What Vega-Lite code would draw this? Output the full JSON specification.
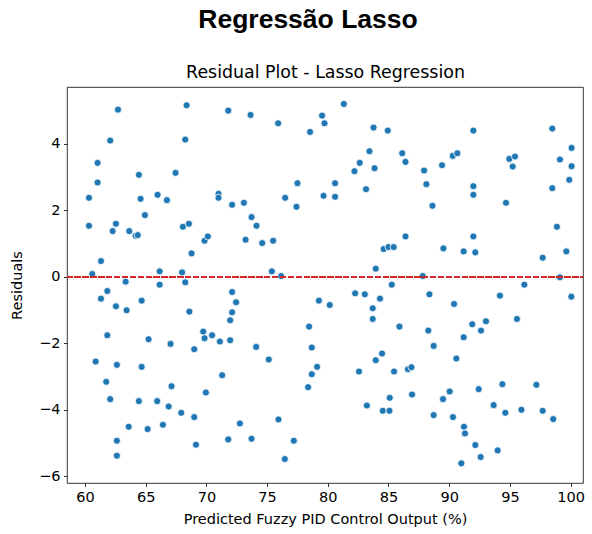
{
  "$schema": "https://vega.github.io/schema/vega-lite/v6.json",
  "width": 516,
  "height": 396,
  "autosize": {"type": "none"},
  "padding": {"left": 67, "top": 87, "right": 9, "bottom": 51},
  "background": "white",
  "title": {
    "text": "Regressão Lasso",
    "font": "Liberation Sans",
    "fontSize": 26.5,
    "fontWeight": "bold",
    "color": "black",
    "anchor": "middle",
    "frame": "group",
    "dx": -17,
    "offset": 30
  },
  "config": {
    "view": {"stroke": "black", "strokeWidth": 0.8},
    "axis": {
      "domain": false,
      "grid": false,
      "tickColor": "black",
      "tickWidth": 0.8,
      "tickSize": 3.5,
      "labelFont": "DejaVu Sans",
      "labelFontSize": 14.5,
      "labelColor": "black",
      "labelPadding": 3.5,
      "titleFont": "DejaVu Sans",
      "titleFontSize": 14.5,
      "titleFontWeight": "normal",
      "titleColor": "black"
    }
  },
  "data": {
    "values": [
      {"x": 62.72, "y": 5.02}, {"x": 68.37, "y": 5.15}, {"x": 71.8, "y": 4.99}, {"x": 62.08, "y": 4.09},
      {"x": 68.26, "y": 4.12}, {"x": 61.04, "y": 3.42}, {"x": 61.04, "y": 2.83}, {"x": 64.44, "y": 3.06},
      {"x": 67.46, "y": 3.12}, {"x": 60.33, "y": 2.37}, {"x": 64.58, "y": 2.34}, {"x": 65.98, "y": 2.46},
      {"x": 66.75, "y": 2.3}, {"x": 71.0, "y": 2.49}, {"x": 71.0, "y": 2.37}, {"x": 72.12, "y": 2.16},
      {"x": 60.33, "y": 1.53}, {"x": 62.55, "y": 1.59}, {"x": 62.28, "y": 1.37}, {"x": 64.94, "y": 1.85},
      {"x": 63.65, "y": 1.37}, {"x": 64.17, "y": 1.23}, {"x": 64.35, "y": 1.25}, {"x": 68.07, "y": 1.5},
      {"x": 68.56, "y": 1.59}, {"x": 69.85, "y": 1.08}, {"x": 70.12, "y": 1.21}, {"x": 68.78, "y": 0.7},
      {"x": 61.32, "y": 0.47}, {"x": 60.6, "y": 0.08}, {"x": 66.15, "y": 0.16}, {"x": 68.0, "y": 0.13},
      {"x": 63.35, "y": -0.15}, {"x": 66.15, "y": -0.24}, {"x": 68.26, "y": -0.17},
      {"x": 61.84, "y": -0.43}, {"x": 61.32, "y": -0.66}, {"x": 62.55, "y": -0.89}, {"x": 63.43, "y": -1.01},
      {"x": 64.67, "y": -0.72}, {"x": 68.6, "y": -1.05}, {"x": 72.12, "y": -0.46}, {"x": 72.45, "y": -0.77},
      {"x": 72.12, "y": -1.07}, {"x": 71.96, "y": -1.31}, {"x": 61.84, "y": -1.76}, {"x": 65.24, "y": -1.88},
      {"x": 67.05, "y": -2.02}, {"x": 69.74, "y": -1.65}, {"x": 69.85, "y": -1.85}, {"x": 70.47, "y": -1.76},
      {"x": 71.11, "y": -1.95}, {"x": 71.96, "y": -1.91}, {"x": 69.0, "y": -2.18}, {"x": 60.88, "y": -2.55},
      {"x": 62.63, "y": -2.65}, {"x": 64.67, "y": -2.71}, {"x": 61.75, "y": -3.16}, {"x": 62.08, "y": -3.68},
      {"x": 67.13, "y": -3.29}, {"x": 71.3, "y": -2.96}, {"x": 69.96, "y": -3.48}, {"x": 64.44, "y": -3.74},
      {"x": 65.95, "y": -3.74}, {"x": 66.89, "y": -3.9}, {"x": 67.93, "y": -4.09}, {"x": 69.0, "y": -4.22},
      {"x": 72.76, "y": -4.41}, {"x": 63.6, "y": -4.51}, {"x": 65.16, "y": -4.58}, {"x": 66.42, "y": -4.45},
      {"x": 62.63, "y": -4.93}, {"x": 62.63, "y": -5.38}, {"x": 69.14, "y": -5.05}, {"x": 71.8, "y": -4.89},
      {"x": 73.64, "y": 4.86}, {"x": 75.91, "y": 4.61}, {"x": 78.54, "y": 4.35}, {"x": 79.53, "y": 4.84},
      {"x": 79.73, "y": 4.61}, {"x": 81.32, "y": 5.19}, {"x": 83.77, "y": 4.48}, {"x": 84.94, "y": 4.39},
      {"x": 83.43, "y": 3.77}, {"x": 82.63, "y": 3.42}, {"x": 82.2, "y": 3.17}, {"x": 83.85, "y": 3.26},
      {"x": 86.13, "y": 3.71}, {"x": 86.4, "y": 3.45}, {"x": 77.5, "y": 2.81}, {"x": 80.6, "y": 2.81},
      {"x": 76.49, "y": 2.37}, {"x": 77.42, "y": 2.1}, {"x": 79.65, "y": 2.43}, {"x": 80.6, "y": 2.4},
      {"x": 83.15, "y": 2.63}, {"x": 73.09, "y": 2.22}, {"x": 73.72, "y": 1.79}, {"x": 74.13, "y": 1.53},
      {"x": 73.23, "y": 1.11}, {"x": 74.6, "y": 1.01}, {"x": 75.5, "y": 1.08}, {"x": 86.4, "y": 1.21},
      {"x": 84.6, "y": 0.83}, {"x": 85.0, "y": 0.89}, {"x": 85.43, "y": 0.89}, {"x": 75.39, "y": 0.16},
      {"x": 76.16, "y": 0.02}, {"x": 83.95, "y": 0.24}, {"x": 85.27, "y": -0.24},
      {"x": 74.1, "y": -2.11}, {"x": 75.14, "y": -2.49}, {"x": 78.46, "y": -1.5}, {"x": 78.68, "y": -2.13},
      {"x": 79.12, "y": -2.71}, {"x": 78.68, "y": -2.93}, {"x": 78.38, "y": -3.32}, {"x": 79.27, "y": -0.72},
      {"x": 80.16, "y": -0.85}, {"x": 82.25, "y": -0.5}, {"x": 83.05, "y": -0.53}, {"x": 84.3, "y": -0.66},
      {"x": 83.7, "y": -0.95}, {"x": 83.7, "y": -1.27}, {"x": 85.9, "y": -1.5}, {"x": 84.47, "y": -2.31},
      {"x": 83.95, "y": -2.51}, {"x": 82.57, "y": -2.85}, {"x": 85.46, "y": -2.85}, {"x": 86.6, "y": -2.78},
      {"x": 85.1, "y": -3.64}, {"x": 83.22, "y": -3.87}, {"x": 84.53, "y": -4.03}, {"x": 85.08, "y": -4.03},
      {"x": 73.72, "y": -4.87}, {"x": 75.94, "y": -4.29}, {"x": 77.2, "y": -4.93}, {"x": 76.46, "y": -5.48},
      {"x": 91.99, "y": 4.39}, {"x": 98.49, "y": 4.45}, {"x": 87.93, "y": 3.19}, {"x": 89.41, "y": 3.35},
      {"x": 90.29, "y": 3.63}, {"x": 90.67, "y": 3.71}, {"x": 88.12, "y": 2.78}, {"x": 88.62, "y": 2.13},
      {"x": 91.99, "y": 2.72}, {"x": 91.99, "y": 2.46}, {"x": 94.95, "y": 3.54}, {"x": 95.42, "y": 3.61},
      {"x": 95.23, "y": 3.31}, {"x": 94.68, "y": 2.22}, {"x": 100.08, "y": 3.87}, {"x": 99.12, "y": 3.52},
      {"x": 100.08, "y": 3.32}, {"x": 99.89, "y": 2.91}, {"x": 98.49, "y": 2.66}, {"x": 98.87, "y": 1.5},
      {"x": 89.52, "y": 0.85}, {"x": 91.19, "y": 0.76}, {"x": 92.15, "y": 0.73}, {"x": 91.99, "y": 1.21},
      {"x": 97.7, "y": 0.57}, {"x": 99.65, "y": 0.76}, {"x": 87.82, "y": 0.02}, {"x": 99.12, "y": -0.02},
      {"x": 96.19, "y": -0.24},
      {"x": 88.37, "y": -0.53}, {"x": 90.4, "y": -0.82}, {"x": 94.18, "y": -0.57}, {"x": 100.06, "y": -0.6},
      {"x": 88.28, "y": -1.62}, {"x": 88.72, "y": -2.08}, {"x": 91.19, "y": -1.82}, {"x": 91.9, "y": -1.43},
      {"x": 92.62, "y": -1.62}, {"x": 93.03, "y": -1.34}, {"x": 95.58, "y": -1.27}, {"x": 90.59, "y": -2.46},
      {"x": 86.89, "y": -2.72}, {"x": 86.94, "y": -3.54}, {"x": 89.49, "y": -3.68}, {"x": 90.04, "y": -3.45},
      {"x": 92.43, "y": -3.38}, {"x": 94.38, "y": -3.23}, {"x": 97.18, "y": -3.25}, {"x": 93.66, "y": -3.86},
      {"x": 94.62, "y": -4.09}, {"x": 88.72, "y": -4.16}, {"x": 90.31, "y": -4.22}, {"x": 95.95, "y": -4.0},
      {"x": 97.7, "y": -4.03}, {"x": 98.57, "y": -4.28}, {"x": 91.22, "y": -4.51}, {"x": 91.3, "y": -4.71},
      {"x": 92.15, "y": -5.06}, {"x": 93.99, "y": -5.22}, {"x": 92.59, "y": -5.42}, {"x": 91.0, "y": -5.61}
    ]
  },
  "resolve": {"axis": {"x": "independent"}},
  "layer": [
    {
      "mark": {"type": "point", "filled": true, "fill": "#1f77b4", "stroke": "white", "strokeWidth": 0.8, "size": 50, "opacity": 1},
      "encoding": {
        "x": {
          "field": "x", "type": "quantitative",
          "scale": {"domain": [58.52, 101.02], "nice": false, "zero": false},
          "axis": {"orient": "bottom", "values": [60, 65, 70, 75, 80, 85, 90, 95, 100], "title": "Predicted Fuzzy PID Control Output (%)", "titlePadding": 9}
        },
        "y": {
          "field": "y", "type": "quantitative",
          "scale": {"domain": [-6.2, 5.7], "nice": false, "zero": false},
          "axis": {"values": [-6, -4, -2, 0, 2, 4], "title": "Residuals", "titlePadding": 14}
        }
      }
    },
    {
      "mark": {"type": "rule", "color": "#d62728", "strokeWidth": 1.5, "strokeDash": [5.5, 2.4]},
      "encoding": {
        "x": {
          "datum": 58.52, "type": "quantitative",
          "scale": {"domain": [58.52, 101.02], "nice": false, "zero": false},
          "axis": {"orient": "top", "labels": false, "ticks": false, "domain": false, "title": "Residual Plot - Lasso Regression", "titleFontSize": 17.4, "titlePadding": 6}
        },
        "x2": {"datum": 101.02},
        "y": {"datum": 0, "type": "quantitative"}
      }
    }
  ]
}
